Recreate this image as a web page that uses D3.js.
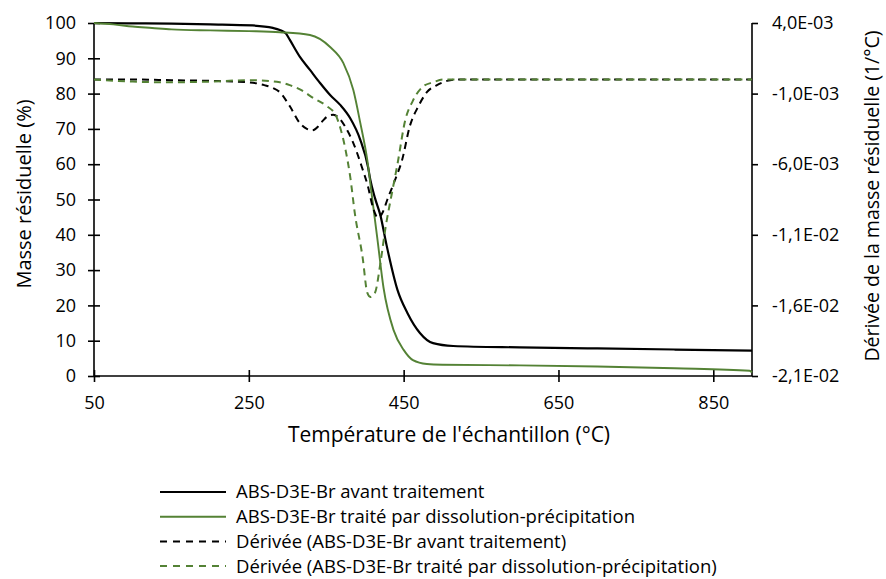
<!DOCTYPE html>
<html>
<head>
<meta charset="utf-8">
<script src="https://cdn.jsdelivr.net/npm/d3@7"></script>
<style>
  html, body { margin: 0; padding: 0; background: #fff; }
  svg { display: block; }
  text { font-family: "Open Sans", "Noto Sans", sans-serif; fill: #000; }
</style>
</head>
<body>
<svg id="chart" width="886" height="579"></svg>
<script>
// ---------- data ----------
const xTicks = [50, 250, 450, 650, 850];
const yLeftTicks = [0, 10, 20, 30, 40, 50, 60, 70, 80, 90, 100];
const yRightTicks = [0.004, -0.001, -0.006, -0.011, -0.016, -0.021];

// Masse résiduelle (%) — ABS-D3E-Br avant traitement
const tempBlack = [50, 100, 150, 200, 255, 281, 290, 298, 303, 316, 329, 342, 355, 368, 381, 394, 404, 407, 413, 420, 428, 442, 455, 471, 488, 514, 600, 700, 800, 900];
const massBlack = [100, 99.9, 99.8, 99.6, 99.3, 98.6, 98.0, 97.0, 95.2, 90.4, 86.7, 83.0, 79.6, 76.8, 73.0, 66.9, 59.2, 55.5, 50.4, 45.5, 37.0, 24.4, 17.8, 12.2, 9.3, 8.5, 8.1, 7.8, 7.5, 7.2];

// Masse résiduelle (%) — ABS-D3E-Br traité par dissolution-précipitation
const tempGreen = [50, 75, 100, 125, 150, 200, 250, 290, 329, 355, 372, 385, 394, 403, 409, 416, 424, 437, 450, 462, 480, 500, 600, 700, 800, 897, 900];
const massGreen = [100, 99.6, 99.0, 98.6, 98.2, 97.9, 97.7, 97.4, 96.6, 93.2, 88.7, 81.0, 71.7, 61.2, 51.0, 39.0, 25.0, 13.0, 7.4, 4.5, 3.4, 3.2, 3.0, 2.7, 2.2, 1.5, 1.0];

// Dérivée (1/°C) — avant traitement
const tempDerBlack = [50, 100, 150, 200, 250, 270, 281, 290, 303, 316, 325, 332, 340, 346, 352, 359, 366, 374, 385, 396, 404, 410, 417, 423, 429, 439, 448, 458, 469, 480, 493, 506, 520, 600, 700, 800, 900];
const derBlack = [0, 0, -0.00005, -0.0001, -0.0002, -0.0004, -0.0006, -0.0009, -0.0019, -0.0031, -0.0035, -0.0036, -0.0033, -0.0029, -0.0026, -0.0025, -0.0027, -0.0033, -0.0045, -0.0062, -0.0076, -0.0090, -0.0098, -0.0094, -0.0085, -0.0071, -0.0057, -0.0033, -0.0019, -0.0009, -0.0004, -0.0001, 0, 0, 0, 0, 0];

// Dérivée (1/°C) — traité par dissolution-précipitation
const tempDerGreen = [50, 80, 100, 150, 200, 250, 290, 303, 316, 333, 351, 362, 368, 375, 381, 387, 397, 403, 407, 413, 420, 426, 435, 442, 452, 462, 475, 488, 501, 600, 700, 800, 900];
const derGreen = [0, -0.0001, -0.00015, -0.0002, -0.00015, -0.00005, -0.0002, -0.0004, -0.0007, -0.0013, -0.0019, -0.0025, -0.0034, -0.0050, -0.0069, -0.0095, -0.0126, -0.0151, -0.0154, -0.0151, -0.0130, -0.0107, -0.0080, -0.0060, -0.0029, -0.0015, -0.0005, -0.0002, 0, 0, 0, 0, 0];

const legendLabels = [
  "ABS-D3E-Br avant traitement",
  "ABS-D3E-Br traité par dissolution-précipitation",
  "Dérivée (ABS-D3E-Br avant traitement)",
  "Dérivée (ABS-D3E-Br traité par dissolution-précipitation)"
];

// ---------- layout ----------
const GREEN = "#548235";
const mLeft = 94, mRight = 752, mTop = 23, mBottom = 376;
const svg = d3.select("#chart");

const x = d3.scaleLinear().domain([50, 900]).range([mLeft, mRight]);
const yL = d3.scaleLinear().domain([0, 100]).range([mBottom, mTop]);
const yR = d3.scaleLinear().domain([-0.021, 0.004]).range([mBottom, mTop]);

function fmtSci(v) {
  const s = v.toExponential(1); // e.g. "-1.0e-3"
  const [mant, exp] = s.split("e");
  const e = parseInt(exp, 10);
  const sign = e < 0 ? "-" : "+";
  return mant.replace(".", ",") + "E" + sign + String(Math.abs(e)).padStart(2, "0");
}

const tickFont = 18;

// left axis
const gL = svg.append("g").attr("transform", `translate(${mLeft},0)`)
  .call(d3.axisLeft(yL).tickValues(yLeftTicks).tickSize(6).tickPadding(12).tickFormat(d3.format("d")));
gL.selectAll(".tick line").attr("x1", 6).attr("x2", -6);
// bottom axis
const gB = svg.append("g").attr("transform", `translate(0,${mBottom})`)
  .call(d3.axisBottom(x).tickValues(xTicks).tickSize(6).tickPadding(14).tickFormat(d3.format("d")));
gB.selectAll(".tick line").attr("y1", -6).attr("y2", 6);
// right axis
const gR = svg.append("g").attr("transform", `translate(${mRight},0)`)
  .call(d3.axisRight(yR).tickValues(yRightTicks).tickSize(6).tickPadding(14).tickFormat(fmtSci));

[gL, gB, gR].forEach(g => {
  g.select(".domain").attr("stroke", "#000").attr("stroke-width", 1.6);
  g.selectAll(".tick line").attr("stroke", "#000").attr("stroke-width", 1.6);
  g.selectAll(".tick text").attr("font-size", tickFont)
    .style("font-family", '"Open Sans", sans-serif').attr("fill", "#000");
});
gL.select(".domain").attr("d", `M0,${mTop}V${mBottom}`);
gR.select(".domain").attr("d", `M0,${mTop}V${mBottom}`);
gB.select(".domain").attr("d", `M${mLeft},0H${mRight}`);

// axis titles
svg.append("text").attr("x", 449).attr("y", 442).attr("text-anchor", "middle")
  .attr("font-size", 21).text("Température de l'échantillon (°C)");
svg.append("text").attr("transform", "translate(31,194) rotate(-90)").attr("text-anchor", "middle")
  .attr("font-size", 20).text("Masse résiduelle (%)");
svg.append("text").attr("transform", "translate(879,196) rotate(-90)").attr("text-anchor", "middle")
  .attr("font-size", 19.5).text("Dérivée de la masse résiduelle (1/°C)");

// lines
function drawLine(xs, ys, yScale, color, width, dash) {
  const pts = xs.map((t, i) => [t, ys[i]]);
  const line = d3.line().x(d => x(d[0])).y(d => yScale(d[1])).curve(d3.curveMonotoneX);
  svg.append("path").datum(pts).attr("d", line)
    .attr("fill", "none").attr("stroke", color).attr("stroke-width", width)
    .attr("stroke-dasharray", dash || null).attr("stroke-linejoin", "round");
}
drawLine(tempBlack, massBlack, yL, "#000", 2.2);
drawLine(tempGreen, massGreen, yL, GREEN, 1.9);
drawLine(tempDerBlack, derBlack, yR, "#000", 2, "7,5");
drawLine(tempDerGreen, derGreen, yR, GREEN, 2, "7,5");

// legend
const legendStyles = [
  {c: "#000", w: 2.2, d: null},
  {c: GREEN, w: 1.9, d: null},
  {c: "#000", w: 2, d: "7,6"},
  {c: GREEN, w: 2, d: "7,6"}
];
const legY0 = 492, legDy = 24.7;
const lg = svg.append("g");
legendLabels.forEach((lab, i) => {
  const yy = legY0 + i * legDy;
  lg.append("line").attr("x1", 160).attr("x2", 226).attr("y1", yy).attr("y2", yy)
    .attr("stroke", legendStyles[i].c).attr("stroke-width", legendStyles[i].w)
    .attr("stroke-dasharray", legendStyles[i].d);
  lg.append("text").attr("x", 236).attr("y", yy).attr("dy", "0.35em")
    .attr("font-size", 18.5).text(lab);
});
</script>
</body>
</html>
